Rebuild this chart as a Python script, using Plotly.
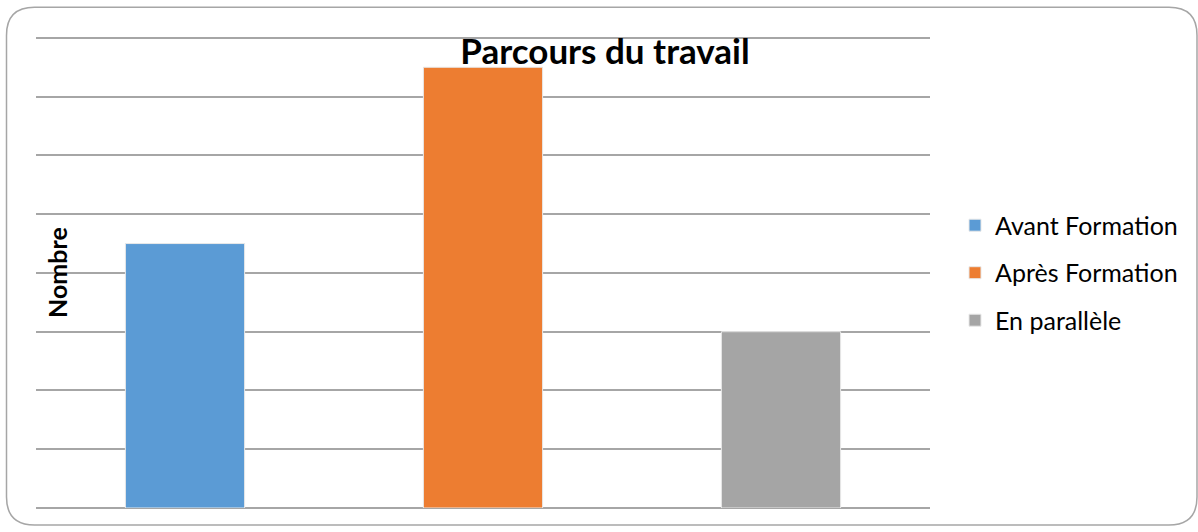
import plotly.graph_objects as go

series = ["Avant Formation", "Après Formation", "En parallèle"]
values = [4.5, 7.5, 3.0]
colors = ["#5b9bd5", "#ed7d31", "#a5a5a5"]
positions = [0, 1, 2]

W, H = 1198, 532
YMAX = 8.1
L, R, B = 36, 930, 508
T = B - 470 / 8 * YMAX  # so that 8 units span 470 px

fig = go.Figure()
for name, v, c, p in zip(series, values, colors, positions):
    fig.add_trace(go.Bar(
        x=[p], y=[v], name=name, width=0.4,
        marker=dict(color=c, line=dict(color="#e8e8e8", width=1)),
        legendgroup=name,
    ))

def px_x(px):
    return (px - L) / (R - L)

def px_y(py):
    return (B - py) / (B - T)

# rounded border path in paper coords
x0, x1 = px_x(6.5), px_x(1197)
y0, y1 = px_y(525), px_y(7.5)
rx, ry = 28 / (R - L), 28 / (B - T)
path = (f"M {x0+rx},{y1} L {x1-rx},{y1} Q {x1},{y1} {x1},{y1-ry} "
        f"L {x1},{y0+ry} Q {x1},{y0} {x1-rx},{y0} "
        f"L {x0+rx},{y0} Q {x0},{y0} {x0},{y0+ry} "
        f"L {x0},{y1-ry} Q {x0},{y1} {x0+rx},{y1} Z")
fig.add_shape(type="path", path=path, xref="paper", yref="paper",
              line=dict(color="#a6a6a6", width=1.5), layer="below")

fig.add_annotation(text="<b>Nombre</b>", textangle=-90, xref="paper", yref="paper",
                   x=px_x(57), y=px_y(273), xanchor="center", yanchor="middle",
                   showarrow=False,
                   font=dict(family="Lato, Open Sans, sans-serif", size=25, color="#000"))

fig.update_layout(
    width=W, height=H,
    margin=dict(l=L, r=W - R, t=T, b=H - B),
    paper_bgcolor="white", plot_bgcolor="white",
    title=dict(text="<b>Parcours du travail</b>", x=605 / W,
               xanchor="center", y=1 - 52 / H, yanchor="middle",
               font=dict(family="Lato, Open Sans, sans-serif", size=35, color="#000")),
    barmode="overlay",
    showlegend=True,
    legend=dict(x=px_x(955), xanchor="left", y=px_y(273), yanchor="middle", xref="paper",
                font=dict(family="Lato, Open Sans, sans-serif", size=25, color="#000"),
                tracegroupgap=12, traceorder="grouped", itemwidth=30,
                bgcolor="rgba(0,0,0,0)"),
    xaxis=dict(range=[-0.5, 2.5], showticklabels=False, showgrid=False,
               zeroline=False, showline=False, ticks=""),
    yaxis=dict(range=[0, YMAX], tickvals=[0, 1, 2, 3, 4, 5, 6, 7, 8],
               showticklabels=False, showgrid=True,
               gridcolor="#a6a6a6", gridwidth=1.5, zeroline=True,
               zerolinecolor="#a6a6a6", zerolinewidth=1.5, ticks="", showline=False),
)

fig.write_html("out.html", config={"displayModeBar": False},
               post_script="document.body.style.margin='0';")
